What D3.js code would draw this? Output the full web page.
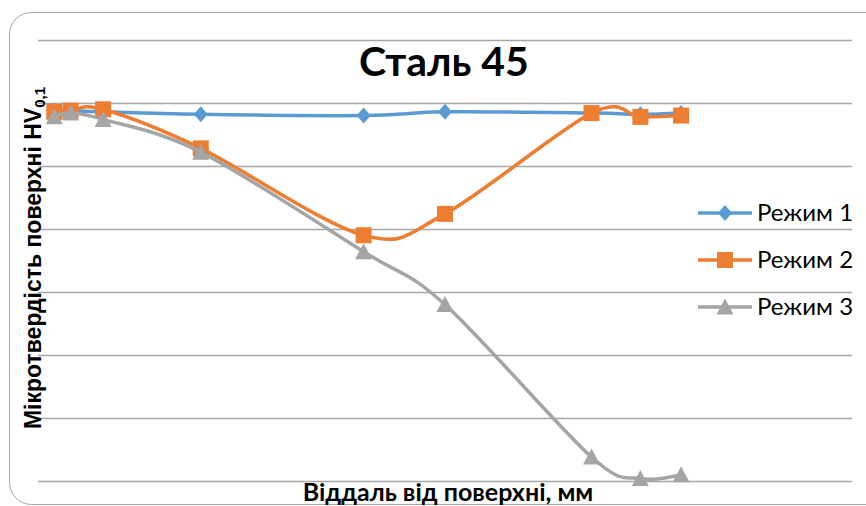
<!DOCTYPE html>
<html>
<head>
<meta charset="utf-8">
<script src="https://cdn.jsdelivr.net/npm/d3@7"></script>
<style>
  html, body { margin: 0; padding: 0; background: #fff; }
  svg { display: block; }
</style>
</head>
<body>
<svg id="chart" width="866" height="506"></svg>
<script>
// Distance from the surface, mm
const distances = [0.02, 0.04, 0.08, 0.2, 0.4, 0.5, 0.68, 0.74, 0.79];
// Microhardness HV0,1 for each treatment mode
const mode1 = [444, 444, 443, 441, 440, 443, 442, 441, 442];
const mode2 = [443, 444, 445, 414, 345, 362, 442, 439, 440];
const mode3 = [439, 442, 437, 411, 332, 290, 169, 152, 155];
const seriesNames = ["Режим 1", "Режим 2", "Режим 3"];
const yTicks = [150, 200, 250, 300, 350, 400, 450, 500];

const colors = ["#5B9BD5", "#ED7D31", "#A5A5A5"];
const shapes = ["diamond", "square", "triangle"];
const seriesValues = [mode1, mode2, mode3];

const svg = d3.select("#chart");

// Rounded chart frame
svg.append("rect")
  .attr("x", 9.5).attr("y", 12.5)
  .attr("width", 880).attr("height", 492)
  .attr("rx", 22).attr("ry", 22)
  .attr("fill", "#fff")
  .attr("stroke", "#a6a6a6").attr("stroke-width", 1);

const x = d3.scaleLinear().domain([0, 1]).range([38, 852]);
const y = d3.scaleLinear().domain([150, 500]).range([481, 40]);

// Horizontal gridlines (no tick labels)
const yAxis = d3.axisLeft(y).tickValues(yTicks).tickSize(-(852 - 38)).tickFormat("");
const gAxis = svg.append("g").attr("transform", "translate(38,0)").call(yAxis);
gAxis.select(".domain").remove();
gAxis.selectAll(".tick line").attr("stroke", "#a6a6a6").attr("stroke-width", 1.3);

// Title
svg.append("text")
  .attr("x", 444).attr("y", 76)
  .attr("text-anchor", "middle")
  .attr("font-family", "Lato, 'Open Sans', sans-serif")
  .attr("font-weight", "bold")
  .attr("font-size", 41)
  .attr("fill", "#000")
  .text("Сталь 45");

// Axis titles
svg.append("text")
  .attr("x", 448).attr("y", 501)
  .attr("text-anchor", "middle")
  .attr("font-family", "Lato, 'Open Sans', sans-serif")
  .attr("font-weight", "bold")
  .attr("font-size", 25)
  .attr("fill", "#000")
  .text("Віддаль від поверхні, мм");

const yTitle = svg.append("text")
  .attr("transform", "translate(41,258) rotate(-90)")
  .attr("text-anchor", "middle")
  .attr("font-family", "'Liberation Sans', Arial, sans-serif")
  .attr("font-weight", "bold")
  .attr("font-size", 23)
  .attr("fill", "#000");
yTitle.append("tspan").text("Мікротвердість поверхні HV");
yTitle.append("tspan").attr("font-size", 15).attr("dy", 4).text("0,1");

// Marker shape paths centred on (0,0)
function markerPath(shape) {
  if (shape === "diamond") return "M0,-8L7,0L0,8L-7,0Z";
  if (shape === "square") return "M-8,-8H8V8H-8Z";
  return "M0,-8.5L8.5,7.5L-8.5,7.5Z";
}

const line = d3.line()
  .x(d => x(d[0]))
  .y(d => y(d[1]))
  .curve(d3.curveCardinal.tension(0));

seriesValues.forEach((vals, i) => {
  const pts = distances.map((d, k) => [d, vals[k]]);
  const g = svg.append("g");
  g.append("path")
    .attr("d", line(pts))
    .attr("fill", "none")
    .attr("stroke", colors[i])
    .attr("stroke-width", 3.5)
    .attr("stroke-linejoin", "round")
    .attr("stroke-linecap", "round");
  g.selectAll("path.mk").data(pts).join("path")
    .attr("class", "mk")
    .attr("transform", d => `translate(${x(d[0])},${y(d[1])})`)
    .attr("d", markerPath(shapes[i]))
    .attr("fill", colors[i]);
});

// Legend
const legend = svg.append("g");
seriesNames.forEach((name, i) => {
  const ly = 213 + i * 47;
  legend.append("line")
    .attr("x1", 698).attr("x2", 752)
    .attr("y1", ly).attr("y2", ly)
    .attr("stroke", colors[i]).attr("stroke-width", 3.5);
  legend.append("path")
    .attr("transform", `translate(725,${ly})`)
    .attr("d", markerPath(shapes[i]))
    .attr("fill", colors[i]);
  legend.append("text")
    .attr("x", 757).attr("y", ly + 8)
    .attr("font-family", "Lato, 'Open Sans', sans-serif")
    .attr("font-size", 24)
    .attr("fill", "#000")
    .text(name);
});
</script>
</body>
</html>
